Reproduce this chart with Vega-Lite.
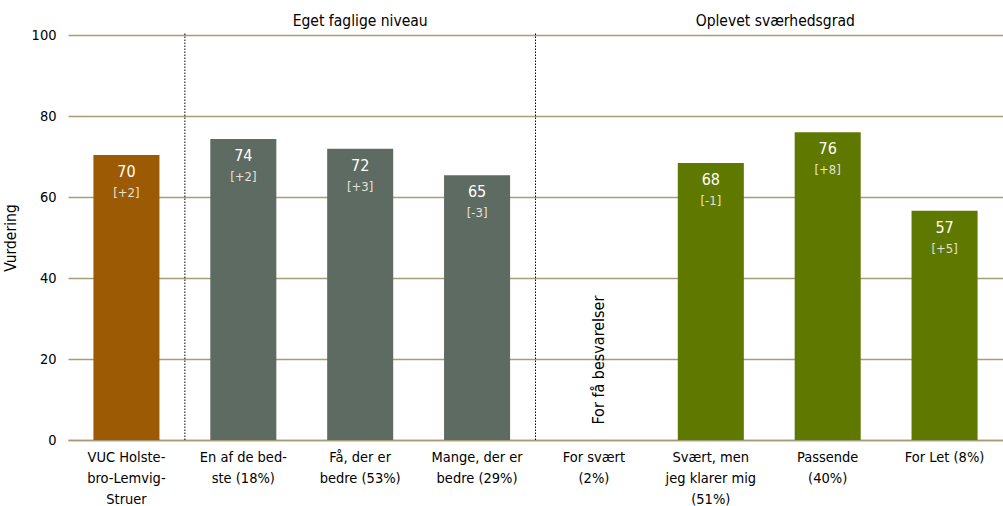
{
  "$schema": "https://vega.github.io/schema/vega-lite/v6.json",
  "width": 935,
  "height": 405,
  "autosize": "none",
  "padding": {"left": 68, "top": 35, "right": 0, "bottom": 66},
  "background": "white",
  "config": {
    "font": "DejaVu Sans Condensed",
    "view": {"stroke": null}
  },
  "datasets": {
    "bars": [
      {"cat": "VUC Holste-|bro-Lemvig-|Struer", "value": 70.4, "label": "70", "diff": "[+2]", "grp": "total"},
      {"cat": "En af de bed-|ste (18%)", "value": 74.3, "label": "74", "diff": "[+2]", "grp": "niveau"},
      {"cat": "Få, der er|bedre (53%)", "value": 71.9, "label": "72", "diff": "[+3]", "grp": "niveau"},
      {"cat": "Mange, der er|bedre (29%)", "value": 65.4, "label": "65", "diff": "[-3]", "grp": "niveau"},
      {"cat": "For svært|(2%)", "value": null, "label": "", "diff": "", "grp": "svaer"},
      {"cat": "Svært, men|jeg klarer mig|(51%)", "value": 68.4, "label": "68", "diff": "[-1]", "grp": "svaer"},
      {"cat": "Passende|(40%)", "value": 76.0, "label": "76", "diff": "[+8]", "grp": "svaer"},
      {"cat": "For Let (8%)", "value": 56.6, "label": "57", "diff": "[+5]", "grp": "svaer"}
    ],
    "seps": [
      {"cat": "En af de bed-|ste (18%)", "y0": 0, "y1": 100.5},
      {"cat": "For svært|(2%)", "y0": 0, "y1": 100.5}
    ],
    "heads1": [
      {"cat": "Få, der er|bedre (53%)", "text": "Eget faglige niveau", "y": 103.5}
    ],
    "heads2": [
      {"cat": "Passende|(40%)", "text": "Oplevet sværhedsgrad", "y": 103.5}
    ],
    "notes": [
      {"cat": "For svært|(2%)", "text": "For få besvarelser", "y": 3.8}
    ]
  },
  "encoding": {
    "x": {
      "field": "cat",
      "type": "nominal",
      "sort": null,
      "scale": {
        "domain": ["VUC Holste-|bro-Lemvig-|Struer", "En af de bed-|ste (18%)", "Få, der er|bedre (53%)", "Mange, der er|bedre (29%)", "For svært|(2%)", "Svært, men|jeg klarer mig|(51%)", "Passende|(40%)", "For Let (8%)"],
        "paddingInner": 0,
        "paddingOuter": 0
      },
      "axis": {
        "title": null,
        "labelAngle": 0,
        "labelExpr": "split(datum.label, '|')",
        "labelFont": "DejaVu Sans Condensed",
        "labelFontSize": 14.5,
        "labelColor": "#000000",
        "labelLineHeight": 21,
        "labelPadding": 10,
        "labelBaseline": "top",
        "ticks": false,
        "domain": true,
        "domainColor": "#a89c78",
        "domainWidth": 1.5,
        "grid": false
      }
    }
  },
  "layer": [
    {
      "data": {"name": "bars"},
      "mark": {"type": "bar", "width": {"band": 0.565}},
      "encoding": {
        "y": {
          "field": "value",
          "type": "quantitative",
          "scale": {"domain": [0, 100], "nice": false},
          "axis": {
            "title": "Vurdering",
            "titleFont": "DejaVu Sans Condensed",
            "titleFontSize": 15.5,
            "titleFontWeight": "normal",
            "titleColor": "#000000",
            "titlePadding": 13,
            "values": [0, 20, 40, 60, 80, 100],
            "labelFont": "DejaVu Sans Condensed",
            "labelFontSize": 14.5,
            "labelColor": "#000000",
            "labelPadding": 12,
            "ticks": false,
            "domain": false,
            "grid": true,
            "gridColor": "#a89c78",
            "gridWidth": 1.5
          }
        },
        "color": {
          "field": "grp",
          "type": "nominal",
          "scale": {"domain": ["total", "niveau", "svaer"], "range": ["#9c5a04", "#5e6b63", "#5f7800"]},
          "legend": null
        }
      }
    },
    {
      "data": {"name": "bars"},
      "mark": {"type": "text", "dy": 17, "baseline": "middle", "align": "center", "fontSize": 16, "color": "#ffffff"},
      "encoding": {
        "y": {"field": "value", "type": "quantitative"},
        "text": {"field": "label"}
      }
    },
    {
      "data": {"name": "bars"},
      "mark": {"type": "text", "dy": 38, "baseline": "middle", "align": "center", "fontSize": 13, "color": "#e2e2d6"},
      "encoding": {
        "y": {"field": "value", "type": "quantitative"},
        "text": {"field": "diff"}
      }
    },
    {
      "data": {"name": "seps"},
      "mark": {"type": "rule", "color": "#000000", "strokeDash": [1.5, 1.5], "strokeWidth": 1},
      "encoding": {
        "x": {"field": "cat", "type": "nominal", "bandPosition": 0},
        "y": {"field": "y0", "type": "quantitative"},
        "y2": {"field": "y1"}
      }
    },
    {
      "data": {"name": "heads1"},
      "mark": {"type": "text", "baseline": "middle", "align": "center", "fontSize": 15.5, "color": "#000000", "clip": false},
      "encoding": {
        "x": {"field": "cat", "type": "nominal", "bandPosition": 0.5},
        "y": {"field": "y", "type": "quantitative"},
        "text": {"field": "text"}
      }
    },
    {
      "data": {"name": "heads2"},
      "mark": {"type": "text", "baseline": "middle", "align": "center", "fontSize": 15.5, "color": "#000000", "clip": false, "dx": 6},
      "encoding": {
        "x": {"field": "cat", "type": "nominal", "bandPosition": 0},
        "y": {"field": "y", "type": "quantitative"},
        "text": {"field": "text"}
      }
    },
    {
      "data": {"name": "notes"},
      "mark": {"type": "text", "baseline": "middle", "align": "left", "angle": 270, "fontSize": 16, "color": "#000000", "dx": 0, "dy": 5},
      "encoding": {
        "x": {"field": "cat", "type": "nominal", "bandPosition": 0.5},
        "y": {"field": "y", "type": "quantitative"},
        "text": {"field": "text"}
      }
    }
  ]
}
